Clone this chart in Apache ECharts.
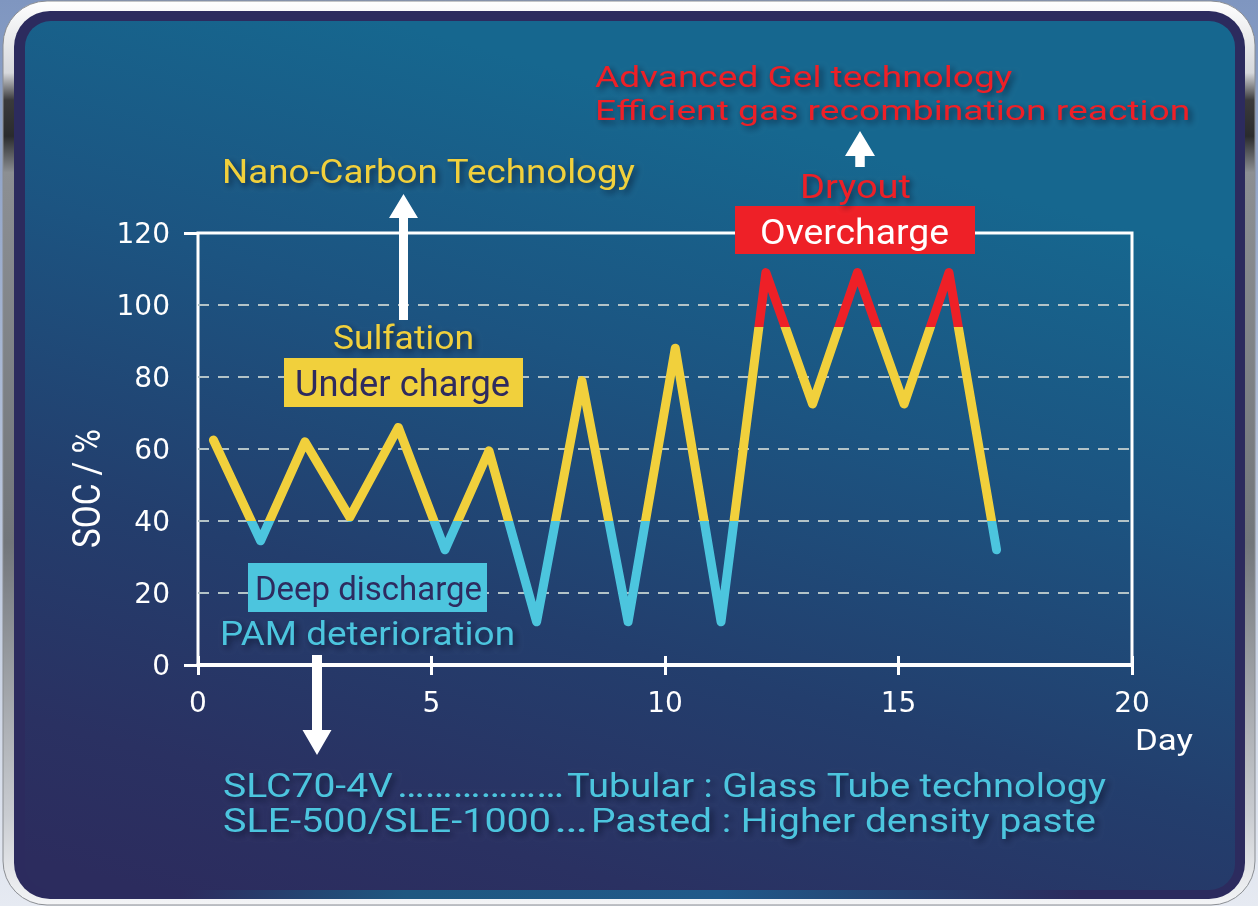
<!DOCTYPE html>
<html>
<head>
<meta charset="utf-8">
<title>SOC vs Day</title>
<script src="https://cdn.jsdelivr.net/npm/echarts@6/dist/echarts.min.js"></script>
<style>
  html, body { margin: 0; padding: 0; }
  body { background: linear-gradient(#7f96c0, #e6eaf2); }
  #chart { width: 1258px; height: 906px; }
</style>
</head>
<body>
<div id="chart"></div>
<script>
// ---- data -------------------------------------------------------------
const days = [0.33, 1.34, 2.29, 3.25, 4.29, 5.29, 6.23, 7.25, 8.22, 9.21, 10.22, 11.2, 12.16, 13.16, 14.12, 15.12, 16.08, 17.1];
const soc  = [62.5, 34.5, 62, 41, 66, 32, 59.5, 12, 79, 12, 88, 12, 109, 72.5, 109, 72.5, 109, 32];

// state-of-charge bands that colour the curve
const deepDischargeBelow = 40;
const overchargeAbove = 94;

// axis ranges and tick steps
const dayRange = [0, 20];
const dayStep = 5;
const socRange = [0, 120];
const socStep = 20;

// ---- colours ----------------------------------------------------------
const YELLOW = '#f1d03c';
const BLUE = '#4cc5de';
const RED = '#ee2027';
const NAVY_TXT = '#2e2b5f';
const FONT = 'Roboto';
const AXIS_FONT = 'DejaVu Sans';
const CAP = 0.711; // cap height of Roboto relative to font size

// ---- text helpers -----------------------------------------------------
const measureCtx = document.createElement('canvas').getContext('2d');
function textWidth(str, size) {
  measureCtx.font = size + 'px ' + FONT;
  return measureCtx.measureText(str).width;
}
const shadow = {
  textShadowColor: 'rgba(5,10,30,0.6)', textShadowBlur: 6,
  textShadowOffsetX: 3, textShadowOffsetY: 3
};
// text fitted between left/right edges, with given cap-top and baseline
function fitText(str, left, right, capTop, base, fill, withShadow) {
  const size = (base - capTop) / CAP;
  const w = textWidth(str, size);
  const style = {
    text: str, x: 0, y: 0, fill: fill,
    font: size.toFixed(2) + 'px ' + FONT,
    align: 'left', verticalAlign: 'middle'
  };
  if (withShadow) Object.assign(style, shadow);
  return {
    type: 'text', z: 60, x: left, y: (capTop + base) / 2 + 0.12 * size,
    scaleX: (right - left) / w, scaleY: 1, originX: 0, originY: 0,
    silent: true, style: style
  };
}
function box(x, y, w, h, fill) {
  return { type: 'rect', z: 55, silent: true, shape: { x: x, y: y, width: w, height: h }, style: { fill: fill } };
}
function arrow(cx, tip, headBase, tail, headHalf, shaftHalf) {
  return {
    type: 'polygon', z: 58, silent: true,
    shape: { points: [
      [cx - headHalf, headBase], [cx, tip], [cx + headHalf, headBase],
      [cx + shaftHalf, headBase], [cx + shaftHalf, tail],
      [cx - shaftHalf, tail], [cx - shaftHalf, headBase]
    ] },
    style: { fill: '#ffffff' }
  };
}

// ---- panel frame ------------------------------------------------------
const frame = [
  { type: 'rect', z: -30, silent: true,
    shape: { x: 3, y: 1, width: 1252, height: 904, r: 44 },
    style: { stroke: '#8a8d92', lineWidth: 1,
      fill: { type: 'linear', x: 0, y: 0, x2: 0, y2: 1, colorStops: [
        { offset: 0, color: '#ffffff' }, { offset: 0.08, color: '#d6d8dc' },
        { offset: 0.11, color: '#3a3a3c' }, { offset: 0.15, color: '#2a2b2d' },
        { offset: 0.19, color: '#8c8f93' }, { offset: 0.6, color: '#72767b' },
        { offset: 0.9, color: '#c9ccd1' }, { offset: 1, color: '#f4f5f7' } ] } } },
  { type: 'rect', z: -29, silent: true,
    shape: { x: 14, y: 11, width: 1231, height: 888, r: 36 },
    style: { fill: '#2c2b5e' } },
  { type: 'rect', z: -28, silent: true,
    shape: { x: 25, y: 21, width: 1210, height: 869, r: 26 },
    style: { fill: { type: 'linear', x: 0.3, y: 0, x2: 0.1, y2: 1, colorStops: [
      { offset: 0, color: '#16678f' }, { offset: 0.3, color: '#1c5481' },
      { offset: 0.6, color: '#233e6d' }, { offset: 0.85, color: '#2a3162' },
      { offset: 1, color: '#2c2c5e' } ] } } },
  { type: 'rect', z: -27, silent: true,
    shape: { x: 180, y: 890, width: 900, height: 9 },
    style: { fill: { type: 'linear', x: 0, y: 0, x2: 1, y2: 0, colorStops: [
      { offset: 0, color: 'rgba(31,90,131,0)' }, { offset: 0.25, color: '#1f5780' },
      { offset: 0.6, color: '#20598a' }, { offset: 1, color: 'rgba(31,90,131,0)' } ] } } }
];

// ---- annotations ------------------------------------------------------
const notes = [
  fitText('Nano-Carbon Technology', 222, 635, 159, 183, YELLOW, true),
  arrow(403.5, 194, 218, 320, 14.5, 4.5),
  fitText('Sulfation', 333, 474, 325, 349, YELLOW, true),
  box(284, 358, 239, 49, YELLOW),
  fitText('Under charge', 295, 510, 369, 395, NAVY_TXT, false),
  box(248, 563, 239, 49, BLUE),
  fitText('Deep discharge', 255, 482, 576, 600, NAVY_TXT, false),
  fitText('PAM deterioration', 220, 515, 622, 645, BLUE, true),
  arrow(317, 755, 730, 655, 14.5, 5),
  fitText('SLC70-4V', 223, 393, 773, 797, BLUE, true),
  fitText('\u2026\u2026\u2026\u2026\u2026\u2026', 397, 564, 773, 797, BLUE, true),
  fitText('Tubular : Glass Tube technology', 567, 1106, 773, 797, BLUE, true),
  fitText('SLE-500/SLE-1000', 223, 551, 808, 832, BLUE, true),
  fitText('\u2026', 554, 588, 808, 832, BLUE, true),
  fitText('Pasted : Higher density paste', 591, 1096, 808, 832, BLUE, true),
  fitText('Advanced Gel technology', 595, 1012, 66, 87, RED, true),
  fitText('Efficient gas recombination reaction', 595, 1190, 100, 120, RED, true),
  arrow(860, 131, 156, 167, 15, 4.75),
  fitText('Dryout', 800, 911, 174, 198, RED, true),
  box(735, 206, 240, 48, RED),
  fitText('Overcharge', 760, 949, 218, 243, '#ffffff', false),
  fitText('Day', 1135, 1193, 729, 750, '#ffffff', false)
];
// vertical axis title, reading bottom to top
(function () {
  const size = 28 / CAP;
  const str = 'SOC / %';
  notes.push({
    type: 'text', z: 60, x: 90, y: 488.5, rotation: Math.PI / 2,
    scaleX: 119 / textWidth(str, size), scaleY: 1, silent: true,
    style: { text: str, x: 0, y: 0, fill: '#ffffff', font: size.toFixed(2) + 'px ' + FONT,
      align: 'center', verticalAlign: 'middle' }
  });
})();

// ---- chart ------------------------------------------------------------
const chart = echarts.init(document.getElementById('chart'), null, { renderer: 'canvas' });
const white = '#ffffff';
chart.setOption({
  animation: false,
  backgroundColor: 'transparent',
  grid: { left: 198, right: 126, top: 233, bottom: 241, show: true,
    borderColor: white, borderWidth: 3, backgroundColor: 'transparent' },
  xAxis: [
    { type: 'value', min: dayRange[0], max: dayRange[1], interval: dayStep,
      axisLine: { show: true, onZero: false, lineStyle: { color: white, width: 4 } },
      axisTick: { show: true, length: 10, lineStyle: { color: white, width: 3 } },
      axisLabel: { color: white, fontSize: 28, fontFamily: AXIS_FONT, margin: 26 },
      splitLine: { show: false } },
    { type: 'value', min: dayRange[0], max: dayRange[1], interval: dayStep, position: 'bottom',
      axisLine: { show: false },
      axisTick: { show: true, inside: true, length: 9, lineStyle: { color: white, width: 3 } },
      axisLabel: { show: false }, splitLine: { show: false } }
  ],
  yAxis: [
    { type: 'value', min: socRange[0], max: socRange[1], interval: socStep,
      axisLine: { show: false }, axisTick: { show: false },
      axisLabel: { color: white, fontSize: 28, fontFamily: AXIS_FONT, margin: 28,
        verticalAlign: 'top', lineHeight: 6 },
      splitLine: { show: true, showMinLine: false, showMaxLine: false,
        lineStyle: { color: '#b3c3c7', width: 2, type: [11, 9] } } },
    { type: 'value', min: socRange[0], max: socRange[1], interval: socRange[1], position: 'left',
      axisLine: { show: false },
      axisTick: { show: true, length: 14, lineStyle: { color: white, width: 3 } },
      axisLabel: { show: false }, splitLine: { show: false } }
  ],
  visualMap: {
    type: 'piecewise', show: false, dimension: 1, seriesIndex: 0,
    pieces: [
      { lt: deepDischargeBelow, color: BLUE },
      { gte: deepDischargeBelow, lt: overchargeAbove, color: YELLOW },
      { gte: overchargeAbove, color: RED }
    ]
  },
  series: [{
    name: 'SOC', type: 'line', xAxisIndex: 0, yAxisIndex: 0, z: 10,
    data: days.map((d, i) => [d, soc[i]]),
    symbol: 'none',
    lineStyle: { width: 9, cap: 'round', join: 'round' }
  }],
  graphic: { elements: frame.concat(notes) }
});
</script>
</body>
</html>
